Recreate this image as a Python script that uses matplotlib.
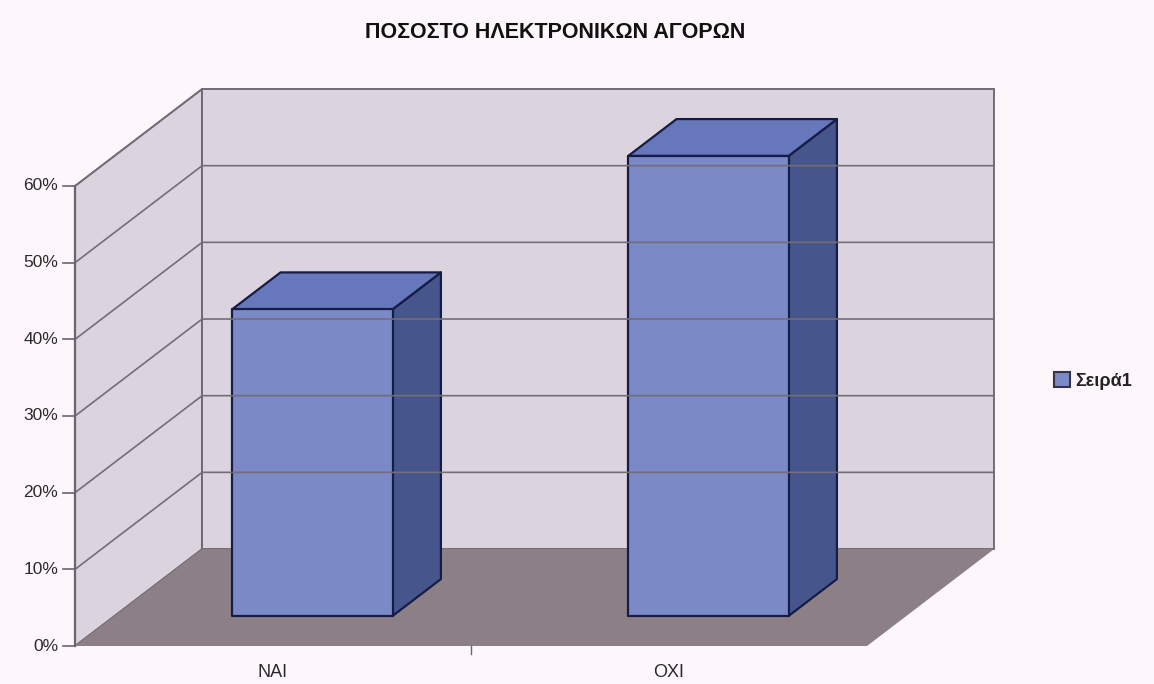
import matplotlib
matplotlib.use("Agg")
from matplotlib import pyplot as plt
from matplotlib.patches import Polygon, Patch

plt.rcParams['font.family'] = ['Liberation Sans', 'DejaVu Sans']

# data
categories = ['NAI', 'ΟΧΙ']
values = [40, 60]          # percent
y_ticks = [0, 10, 20, 30, 40, 50, 60]
y_tick_labels = ['0%', '10%', '20%', '30%', '40%', '50%', '60%']
title = 'ΠΟΣΟΣΤΟ ΗΛΕΚΤΡΟΝΙΚΩΝ ΑΓΟΡΩΝ'
series_name = 'Σειρά1'

# fake 3d: depth vector in data units (x in categories, y in percent)
DX = 0.321
DY = 12.65
Y_MAX = 60
BAR_W = 0.405
D_FRONT = 0.31
D_BACK = 0.69

bg = '#fdf7fc'
wall_c = '#dbd3de'
floor_c = '#8c8086'
grid_c = '#746c78'
edge_c = '#6a646e'
front_c = '#7b8ac6'
top_c = '#6777bb'
side_c = '#46568c'
line_c = '#161c45'
text_c = '#2a2a2a'


def P(x, y, d):
    return (x + DX * d, y + DY * d)


fig = plt.figure(figsize=(11.54, 6.84), dpi=100)
fig.patch.set_facecolor(bg)
ax = fig.add_axes([0, 0, 1, 1])
ax.set_facecolor(bg)
ax.set_xlim(-0.1894, 2.7247)
ax.set_ylim(-4.956, 84.26)
ax.axis('off')

n = len(categories)

# walls and floor
left_wall = [P(0, 0, 0), P(0, Y_MAX, 0), P(0, Y_MAX, 1), P(0, 0, 1)]
back_wall = [P(0, 0, 1), P(n, 0, 1), P(n, Y_MAX, 1), P(0, Y_MAX, 1)]
floor = [P(0, 0, 0), P(n, 0, 0), P(n, 0, 1), P(0, 0, 1)]
ax.add_patch(Polygon(left_wall, closed=True, fc=wall_c, ec=edge_c, lw=1.3))
ax.add_patch(Polygon(back_wall, closed=True, fc=wall_c, ec=edge_c, lw=1.3))
ax.add_patch(Polygon(floor, closed=True, fc=floor_c, ec='none'))

# gridlines on left and back walls
for t in y_ticks[1:]:
    a, b = P(0, t, 0), P(0, t, 1)
    c = P(n, t, 1)
    ax.plot([a[0], b[0], c[0]], [a[1], b[1], c[1]], color=grid_c, lw=1.2)

# value axis, ticks and labels
ax.plot([0, 0], [0, Y_MAX], color=edge_c, lw=1.6)
for t, lab in zip(y_ticks, y_tick_labels):
    ax.plot([-0.03, 0], [t, t], color=edge_c, lw=1.2)
    ax.text(-0.042, t, lab, ha='right', va='center', fontsize=12.5, color=text_c)

# category axis
for i, lab in enumerate(categories):
    ax.text(i + 0.5, -3.4, lab, ha='center', va='center', fontsize=13, color=text_c)
ax.plot([1, 1], [0, -1.0], color=edge_c, lw=1)

# bars
for i, v in enumerate(values):
    x0 = i + 0.5 - BAR_W / 2
    x1 = i + 0.5 + BAR_W / 2
    front = [P(x0, 0, D_FRONT), P(x1, 0, D_FRONT), P(x1, v, D_FRONT), P(x0, v, D_FRONT)]
    top = [P(x0, v, D_FRONT), P(x1, v, D_FRONT), P(x1, v, D_BACK), P(x0, v, D_BACK)]
    side = [P(x1, 0, D_FRONT), P(x1, 0, D_BACK), P(x1, v, D_BACK), P(x1, v, D_FRONT)]
    ax.add_patch(Polygon(side, closed=True, fc=side_c, ec=line_c, lw=1.6, joinstyle='round'))
    ax.add_patch(Polygon(top, closed=True, fc=top_c, ec=line_c, lw=1.6, joinstyle='round'))
    ax.add_patch(Polygon(front, closed=True, fc=front_c, ec=line_c, lw=1.6, joinstyle='round'))

fig.text(555 / 1154, 1 - 33 / 684, title, ha='center', va='center',
         fontsize=15.5, fontweight='bold', color='#111111')

fig.legend(handles=[Patch(fc=front_c, ec='#333344', lw=1.5, label=series_name)],
           loc='center left', bbox_to_anchor=(1054 / 1154, 1 - 381 / 684),
           frameon=False, fontsize=13,
           handlelength=0.9, handleheight=0.9, handletextpad=0.3,
           borderpad=0, borderaxespad=0)
for txt in fig.legends[0].get_texts():
    txt.set_fontweight('bold')
    txt.set_color('#222222')

fig.savefig('out.png', dpi=100, facecolor=bg)
